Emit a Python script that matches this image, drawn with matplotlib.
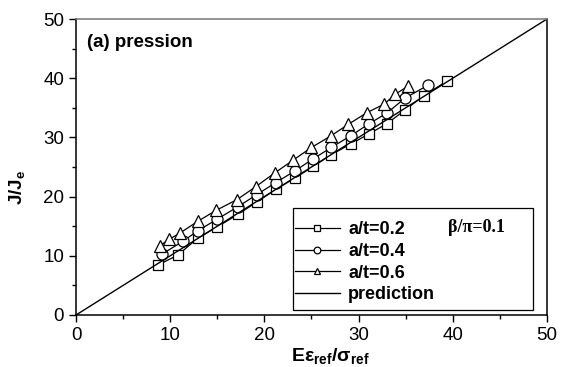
import matplotlib
matplotlib.use("Agg")
import matplotlib.pyplot as plt
from matplotlib.ticker import MultipleLocator
from matplotlib.patches import Rectangle

plt.rcParams['font.family'] = ['Liberation Sans', 'DejaVu Sans']
plt.rcParams['mathtext.fontset'] = 'custom'
plt.rcParams['mathtext.rm'] = 'Liberation Sans'
plt.rcParams['mathtext.bf'] = 'Liberation Sans:bold'
plt.rcParams['mathtext.it'] = 'Liberation Sans:italic'

# a/t = 0.2
x02 = [8.7, 10.8, 12.9, 15.0, 17.2, 19.2, 21.2, 23.2, 25.2, 27.1, 29.2, 31.1, 33.0, 34.9, 36.9, 39.35]
y02 = [8.45, 10.1, 12.95, 14.9, 17.0, 19.1, 21.2, 23.1, 25.1, 27.1, 28.9, 30.6, 32.3, 34.6, 37.0, 39.5]
# a/t = 0.4
x04 = [9.1, 11.4, 12.9, 15.0, 17.2, 19.2, 21.2, 23.2, 25.2, 27.1, 29.2, 31.1, 33.0, 34.9, 37.4]
y04 = [10.25, 12.5, 14.2, 16.2, 18.3, 20.35, 22.35, 24.3, 26.4, 28.3, 30.3, 32.3, 34.1, 36.6, 38.85]
# a/t = 0.6
x06 = [8.9, 9.9, 11.0, 12.9, 14.9, 17.1, 19.1, 21.1, 23.0, 25.0, 27.1, 28.9, 30.9, 32.7, 33.9, 35.2]
y06 = [11.7, 12.8, 13.8, 15.8, 17.7, 19.5, 21.7, 24.0, 26.1, 28.3, 30.3, 32.2, 34.2, 35.6, 37.3, 38.6]
# prediction J/Je = E eps/sigma
xpred = [0, 50]
ypred = [0, 50]

fig = plt.figure(figsize=(5.61, 3.67), dpi=100)
ax = fig.add_axes([0.1355, 0.1417, 0.8395, 0.8065])

mk = dict(color='black', lw=0.9, mfc='white', mec='black', mew=0.9)
ax.plot(x02, y02, marker='s', ms=7, label='a/t=0.2', **mk)
ax.plot(x04, y04, marker='o', ms=8, label='a/t=0.4', **mk)
ax.plot(x06, y06, marker='^', ms=8, label='a/t=0.6', **mk)
ax.plot(xpred, ypred, color='black', lw=1.0, label='prediction')

ax.set_xlim(0, 50)
ax.set_ylim(0, 50)
ax.xaxis.set_major_locator(MultipleLocator(10))
ax.xaxis.set_minor_locator(MultipleLocator(5))
ax.yaxis.set_major_locator(MultipleLocator(10))
ax.yaxis.set_minor_locator(MultipleLocator(5))
ax.tick_params(which='both', direction='out', labelsize=13.5, width=1)
ax.tick_params(which='major', length=5)
ax.tick_params(which='minor', length=3)
ax.spines['top'].set_color('#777777')
for s in ax.spines.values():
    s.set_linewidth(1.1)

ax.set_xlabel(r'$\mathbf{E\epsilon_{ref}/\sigma_{ref}}$', fontsize=14)
ax.xaxis.set_label_coords(0.54, -0.105, transform=ax.transAxes)
ax.xaxis.label.set_va('top')
ax.set_ylabel(r'$\mathbf{J/J_{e}}$', fontsize=13.5)
ax.yaxis.set_label_coords(-0.105, 0.43)

ax.text(1.2, 46.1, '(a) pression', fontsize=13.5, fontweight='bold', va='center')

# legend frame (wide box that also holds the beta/pi note)
ax.add_patch(Rectangle((0.4607, 0.017), 0.5096, 0.3446, transform=ax.transAxes,
                       facecolor='white', edgecolor='black', lw=0.9, zorder=4))

leg = ax.legend(loc='upper left', bbox_to_anchor=(0.4607, 0.322), borderaxespad=0,
                frameon=False, markerscale=0.6,
                prop={'weight': 'bold', 'size': 13}, handlelength=2.5,
                handletextpad=0.45, labelspacing=0.25, borderpad=0.1)
leg.set_zorder(5)

ax.text(39.5, 14.7, 'β/π=0.1', fontsize=13, fontweight='bold',
        family='Liberation Serif', va='center', zorder=6)

fig.savefig('out.png', dpi=100)
